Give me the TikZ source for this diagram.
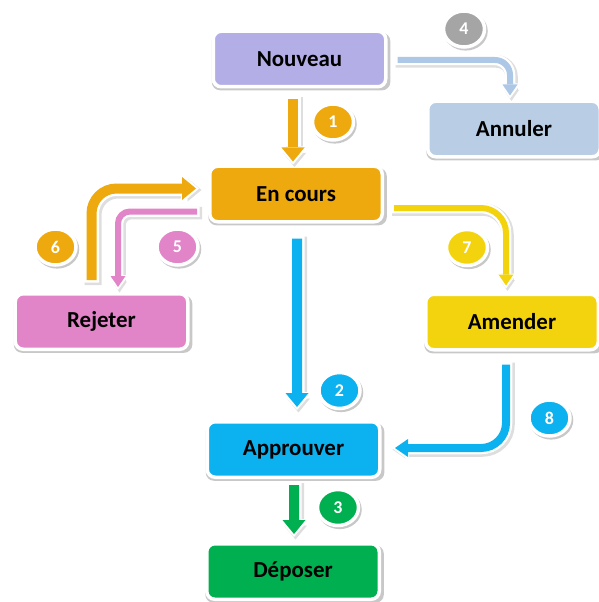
\documentclass[tikz,border=0pt]{standalone}
\usepackage{fontspec}
\setmainfont{Carlito}
\usetikzlibrary{arrows.meta,shapes.geometric,shadows,calc}
\definecolor{cNouv}{HTML}{B3AEE5}
\definecolor{cAnnul}{HTML}{B9CDE5}
\definecolor{cAnnulArr}{HTML}{ADC8E6}
\definecolor{cOrange}{HTML}{EDA90D}
\definecolor{cPink}{HTML}{E184C8}
\definecolor{cYellow}{HTML}{F3D30E}
\definecolor{cBlue}{HTML}{0CB2EF}
\definecolor{cGreen}{HTML}{00B050}
\definecolor{cGray}{HTML}{A5A5A5}
\begin{document}
\begin{tikzpicture}[x=1bp,y=-1bp,
  box/.style={rectangle, rounded corners=8bp, draw=white, line width=3.5bp,
    minimum width=172.5bp, minimum height=55.5bp, inner sep=0pt,
    font=\bfseries\fontsize{23}{27}\selectfont, text=black,
    drop shadow={shadow xshift=1.5bp, shadow yshift=-2.5bp, shadow scale=1.035,
      opacity=0.3, fill=black!70}},
  badge/.style={ellipse, draw=white, line width=3.5bp, minimum width=41bp,
    minimum height=36bp, inner sep=0pt, text=white,
    font=\bfseries\fontsize{18}{18}\selectfont,
    drop shadow={shadow xshift=1.5bp, shadow yshift=-2bp, shadow scale=1.08,
      opacity=0.3, fill=black!70}},
  shad/.style={preaction={draw=black, opacity=0.13, line width=#1,
      transform canvas={shift={(1.5bp,-1.5bp)}}, shorten >=-4bp, shorten <=-3.5bp}},
  fatarrow/.style={line width=10bp, -{Triangle[width=23bp,length=14bp,line width=0pt]},
    shad=17bp,
    preaction={draw=white, line width=15bp, shorten >=-3bp, shorten <=-2.5bp,
      -{Triangle[width=31bp,length=18bp,line width=0pt]}}},
  midarrow/.style={line width=8bp, -{Triangle[width=18bp,length=13bp,line width=0pt]},
    shad=14.5bp,
    preaction={draw=white, line width=12.5bp, shorten >=-3bp, shorten <=-2.5bp,
      -{Triangle[width=25bp,length=17bp,line width=0pt]}}},
  thinarrow/.style={line width=6bp, -{Triangle[width=15bp,length=11bp,line width=0pt]},
    shad=12.5bp,
    preaction={draw=white, line width=10.5bp, shorten >=-3bp, shorten <=-2.5bp,
      -{Triangle[width=22bp,length=15bp,line width=0pt]}}}
]
\useasboundingbox (0,0) rectangle (599,602);
\fill[white] (0,0) rectangle (599,602);

% boxes
\node[box, fill=cNouv]   (nouveau)   at (299.5,59)   {Nouveau};
\node[box, fill=cAnnul]  (annuler)   at (514,129)    {Annuler};
\node[box, fill=cOrange] (encours)   at (296,194)    {En cours};
\node[box, fill=cPink]   (rejeter)   at (101.5,321.5){Rejeter};
\node[box, fill=cYellow] (amender)   at (512,322)    {Amender};
\node[box, fill=cBlue]   (approuver) at (293.5,449.5){Approuver};
\node[box, fill=cGreen]  (deposer)   at (293,571.5)  {Déposer};

% arrows
\draw[fatarrow, draw=cOrange] ($(nouveau.south)+(-6.5,11)$) -- ($(encours.north)+(-3,-3)$);
\draw[fatarrow, draw=cBlue] ($(encours.south)+(1,15)$) -- ($(approuver.north)+(3.5,-13)$);
\draw[fatarrow, draw=cGreen] ($(approuver.south)+(0.5,6)$) -- ($(deposer.north)+(1,-8)$);
\draw[thinarrow, draw=cAnnulArr, rounded corners=15bp] ($(nouveau.east)+(10,1)$) -| ($(annuler.north)+(-4,-4)$);
\draw[thinarrow, draw=cPink, rounded corners=12bp] ($(encours.west)+(-11,17.5)$) -| ($(rejeter.north)+(16.5,-5)$);
\draw[fatarrow, draw=cOrange, rounded corners=25bp] ($(rejeter.north)+(-10,-12)$) |- ($(encours.west)+(-12,-5.5)$);
\draw[thinarrow, draw=cYellow, rounded corners=25bp] ($(encours.east)+(10,14)$) -| ($(amender.north)+(-6,-7)$);
\draw[midarrow, draw=cBlue, rounded corners=25bp] ($(amender.south)+(-6,13)$) |- ($(approuver.east)+(13.5,-1.5)$);

% badges
\node[badge, fill=cOrange] (b1) at (333,122)   {1};
\node[badge, fill=cBlue]   (b2) at (339.5,390.5) {2};
\node[badge, fill=cGreen]  (b3) at (338,507.5) {3};
\node[badge, fill=cGray]   (b4) at (464,29)    {4};
\node[badge, fill=cPink]   (b5) at (177.5,247) {5};
\node[badge, fill=cOrange] (b6) at (55.5,247)  {6};
\node[badge, fill=cYellow] (b7) at (467,247.5) {7};
\node[badge, fill=cBlue]   (b8) at (549.5,418) {8};
\end{tikzpicture}
\end{document}
